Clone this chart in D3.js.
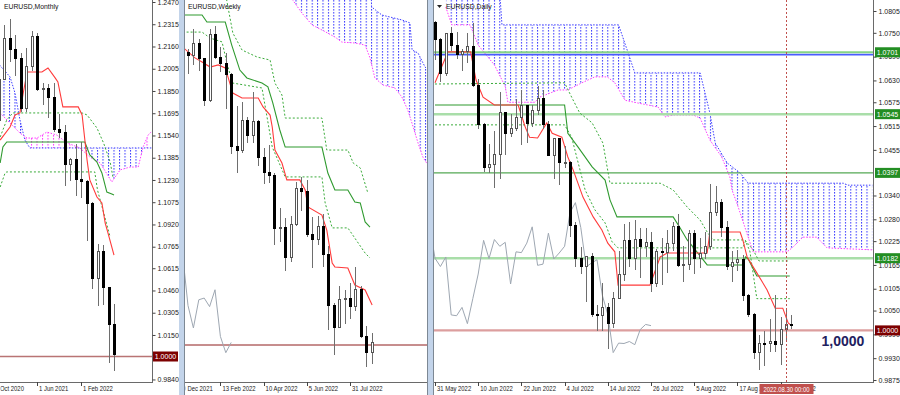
<!DOCTYPE html>
<html lang="en">
<head>
<meta charset="UTF-8">
<title>EURUSD Monthly / Weekly / Daily</title>
<script src="https://d3js.org/d3.v7.min.js"></script>
<style>
  body { margin: 0; background: #fff; }
  svg text { font-family: "Liberation Sans", Arial, sans-serif; }
</style>
</head>
<body>
<script>
// ---------- Monthly, Sep 2020 .. Aug 2022 : [open, high, low, close] ----------
const monthlyOHLC = [
  [1.1935,1.2011,1.1612,1.1720],[1.1720,1.1881,1.1622,1.1647],[1.1647,1.2004,1.1603,1.1927],
  [1.1927,1.2310,1.1925,1.2216],[1.2216,1.2350,1.2055,1.2136],[1.2136,1.2243,1.1952,1.2074],
  [1.2074,1.2113,1.1704,1.1730],[1.1730,1.2150,1.1704,1.2020],[1.2020,1.2266,1.1986,1.2228],
  [1.2228,1.2254,1.1847,1.1858],[1.1858,1.1909,1.1752,1.1870],[1.1870,1.1900,1.1664,1.1807],
  [1.1807,1.1909,1.1562,1.1580],[1.1580,1.1692,1.1524,1.1558],[1.1558,1.1616,1.1186,1.1337],
  [1.1337,1.1386,1.1222,1.1370],[1.1370,1.1483,1.1121,1.1235],[1.1235,1.1495,1.1106,1.1218],
  [1.1218,1.1233,1.0806,1.1067],[1.1067,1.1076,1.0471,1.0545],[1.0545,1.0787,1.0349,1.0733],
  [1.0733,1.0774,1.0359,1.0484],[1.0484,1.0486,0.9952,1.0220],[1.0220,1.0369,0.9901,1.0012]
];
const monthlyTenkan = [[2.3,1.1508],[4.1,1.1599],[5,1.1683],[5.9,1.1697],[6.5,1.1836],[7.2,1.1982],[9.9,1.1982],
  [11,1.2010],[12.3,1.1941],[12.8,1.1913],[13.7,1.1739],[16.5,1.1739],[17.2,1.1683],[18.1,1.1369],[18.6,1.1230],
  [19.9,1.1111],[20.8,1.1070],[21.4,1.0930],[21.9,1.0861],[23,1.0707]];
const monthlyKijun = [[2.3,1.1348],[2.8,1.1460],[3.5,1.1495],[17.7,1.1495],[18.6,1.1404],[19.9,1.1355],
  [20.8,1.1279],[21.7,1.1146],[22.6,1.1132],[23,1.1125]];
const monthlyDashedA = [[2.3,1.1529],[3.5,1.1648],[4.6,1.1697],[17.2,1.1697],[18.1,1.1683],[19.9,1.1592],
  [21.1,1.1488],[22.3,1.1355],[22.8,1.1251]];
const monthlyDashedB = [[2.3,1.1181],[3.2,1.1279],[3.5,1.1286],[19.5,1.1286],[20,1.1160],[22.3,1.0833]];
const monthlySpanA = [[2.2,1.2030],[4.1,1.1948],[5,1.1836],[5.9,1.1648],[6.8,1.1508],[7.7,1.1453],[29.9,1.1453]];
const monthlySpanB = [[2.2,1.1700],[5.9,1.1557],[7.2,1.1522],[9,1.1522],[10.8,1.1564],[12.6,1.1543],[14.5,1.1488],
  [16.8,1.1453],[18.6,1.1390],[20.5,1.1348],[22.6,1.1216],[24.1,1.1300],[25.9,1.1320],[27.4,1.1320],
  [28.3,1.1460],[29.2,1.1543],[29.9,1.1570]];
const monthlyTicks = [1.2470,1.2315,1.2160,1.2005,1.1850,1.1695,1.1540,1.1385,1.1230,1.1075,1.0920,1.0765,
  1.0615,1.0460,1.0305,1.0150,0.9840];
const monthlyDates = [[1,"1 Oct 2020"],[9,"1 Jun 2021"],[17,"1 Feb 2022"]];
const monthlyLevels = [1.0000];

// ---------- Weekly, 2 Jan 2022 .. 28 Aug 2022 ----------
const weeklyOHLC = [
  [1.1370,1.1386,1.1272,1.1359],[1.1359,1.1482,1.1313,1.1412],[1.1412,1.1436,1.1285,1.1344],
  [1.1344,1.1347,1.1121,1.1146],[1.1146,1.1483,1.1139,1.1454],[1.1454,1.1495,1.1339,1.1349],
  [1.1349,1.1395,1.1280,1.1322],[1.1322,1.1367,1.1106,1.1269],[1.1269,1.1274,1.0895,1.0929],
  [1.0929,1.1121,1.0806,1.0911],[1.0911,1.1137,1.0900,1.1051],[1.1051,1.1070,1.0945,1.0983],
  [1.0983,1.1185,1.0945,1.1047],[1.1047,1.1054,1.0837,1.0877],[1.0877,1.0924,1.0757,1.0808],
  [1.0808,1.0936,1.0760,1.0796],[1.0796,1.0806,1.0471,1.0545],[1.0545,1.0642,1.0483,1.0550],
  [1.0550,1.0594,1.0349,1.0412],[1.0412,1.0607,1.0388,1.0564],[1.0564,1.0765,1.0558,1.0733],
  [1.0733,1.0787,1.0627,1.0720],[1.0720,1.0773,1.0505,1.0518],[1.0518,1.0601,1.0359,1.0495],
  [1.0495,1.0606,1.0468,1.0554],[1.0554,1.0615,1.0366,1.0425],[1.0425,1.0464,1.0072,1.0185],
  [1.0185,1.0198,0.9952,1.0080],[1.0080,1.0278,1.0079,1.0212],[1.0212,1.0258,1.0097,1.0220],
  [1.0220,1.0293,1.0123,1.0180],[1.0180,1.0368,1.0160,1.0259],[1.0259,1.0275,1.0033,1.0040],
  [1.0040,1.0090,0.9899,0.9964],[0.9964,1.0056,0.9910,1.0012]
];
const weeklyTenkan = [[-1,1.1397],[1.3,1.1346],[2.6,1.1327],[4.1,1.1303],[5.6,1.1313],[6.9,1.1299],[8.3,1.1181],
  [10,1.1158],[13,1.1158],[13.9,1.1116],[15.2,1.1078],[15.6,1.1022],[16.1,1.0914],[17.4,1.0853],[18.3,1.0774],
  [20.7,1.0774],[21.7,1.0727],[22.2,1.0647],[24.8,1.0609],[25.7,1.0539],[26.7,1.0384],[27.2,1.0366],
  [29.6,1.0361],[30.9,1.0281],[32.8,1.0258],[34.1,1.0188]];
const weeklyKijun = [[-1,1.1547],[2.6,1.1547],[3.5,1.1514],[6.9,1.1514],[8.1,1.1406],[9.6,1.1289],[10.9,1.1252],
  [13.7,1.1228],[14.8,1.1210],[15.7,1.1135],[17,1.1008],[18,1.0928],[24.8,1.0928],[25.9,1.0806],[27.2,1.0727],
  [29.6,1.0727],[30.9,1.0670],[31.9,1.0666],[32.8,1.0577],[33.7,1.0553]];
const weeklyDashedA = [[7,1.1640],[7.4,1.1585],[8.3,1.1463],[10,1.1383],[12.8,1.1350],[15.2,1.1336],[16.1,1.1228],
  [17.4,1.1172],[18,1.1064],[24.8,1.1064],[25.7,1.0914],[29.6,1.0914],[30.6,1.0853],[31.9,1.0830],[33.3,1.0713]];
const weeklyDashedB = [[-1,1.1467],[2.6,1.1467],[4.1,1.1439],[6.3,1.1421],[7.4,1.1303],[8.3,1.1228],[13.7,1.1205],
  [15.6,1.0928],[18,1.0788],[24.8,1.0788],[25.4,1.0666],[26.7,1.0549],[29.6,1.0549],[32.8,1.0431],[33.7,1.0408]];
const weeklySpanA = [[18,1.1900],[33.6,1.1900],[34,1.1585],[35.9,1.1547],[39.6,1.1524],[41.1,1.1510],[41.5,1.1383],
  [42.6,1.1369],[43.9,1.1303],[45,1.1280]];
const weeklySpanB = [[18,1.1900],[19.4,1.1617],[21.1,1.1556],[23,1.1500],[24.8,1.1477],[27.2,1.1444],[28.5,1.1420],
  [30.9,1.1416],[32.8,1.1406],[33.7,1.1346],[34.6,1.1252],[36.1,1.1219],[38.3,1.1205],[39.6,1.1163],
  [40.7,1.1102],[41.7,1.1022],[42.6,1.0947],[43.5,1.0881],[45,1.0820]];
const weeklyDates = [[-2,"19 Dec 2021"],[6,"13 Feb 2022"],[14,"10 Apr 2022"],[22,"5 Jun 2022"],[30,"31 Jul 2022"]];
const weeklyLevels = [1.0000];

// ---------- Daily, 31 May 2022 .. 31 Aug 2022 ----------
const dailyOHLC = [
  [1.0777,1.0780,1.0682,1.0733],[1.0733,1.0737,1.0627,1.0648],[1.0648,1.0750,1.0640,1.0748],[1.0748,1.0764,1.0705,1.0719],
  [1.0719,1.0751,1.0683,1.0696],[1.0696,1.0710,1.0653,1.0704],[1.0704,1.0749,1.0675,1.0716],[1.0716,1.0774,1.0614,1.0617],
  [1.0617,1.0634,1.0507,1.0518],[1.0518,1.0522,1.0398,1.0410],[1.0410,1.0470,1.0397,1.0418],[1.0418,1.0502,1.0358,1.0443],
  [1.0443,1.0601,1.0381,1.0550],[1.0550,1.0551,1.0443,1.0497],[1.0497,1.0546,1.0487,1.0510],[1.0510,1.0583,1.0503,1.0537],
  [1.0537,1.0606,1.0468,1.0566],[1.0566,1.0567,1.0473,1.0521],[1.0521,1.0569,1.0512,1.0554],[1.0554,1.0615,1.0542,1.0584],
  [1.0584,1.0606,1.0508,1.0518],[1.0518,1.0528,1.0441,1.0442],[1.0442,1.0486,1.0382,1.0484],[1.0484,1.0485,1.0366,1.0424],
  [1.0424,1.0464,1.0410,1.0424],[1.0424,1.0427,1.0236,1.0264],[1.0264,1.0274,1.0161,1.0182],[1.0182,1.0209,1.0143,1.0161],
  [1.0161,1.0188,1.0072,1.0185],[1.0185,1.0196,1.0035,1.0039],[1.0039,1.0063,0.9999,1.0037],[1.0037,1.0120,0.9998,1.0058],
  [1.0058,1.0070,0.9952,1.0017],[1.0017,1.0098,1.0007,1.0080],[1.0080,1.0200,1.0080,1.0142],[1.0142,1.0269,1.0124,1.0227],
  [1.0227,1.0273,1.0160,1.0181],[1.0181,1.0278,1.0153,1.0229],[1.0229,1.0258,1.0131,1.0212],[1.0212,1.0258,1.0184,1.0222],
  [1.0222,1.0248,1.0097,1.0117],[1.0117,1.0206,1.0109,1.0198],[1.0198,1.0233,1.0114,1.0196],[1.0196,1.0254,1.0145,1.0220],
  [1.0220,1.0274,1.0199,1.0261],[1.0261,1.0293,1.0159,1.0164],[1.0164,1.0212,1.0123,1.0167],[1.0167,1.0254,1.0151,1.0245],
  [1.0245,1.0253,1.0141,1.0180],[1.0180,1.0233,1.0158,1.0195],[1.0195,1.0248,1.0181,1.0212],[1.0212,1.0368,1.0202,1.0297],
  [1.0297,1.0365,1.0289,1.0322],[1.0322,1.0330,1.0236,1.0259],[1.0259,1.0275,1.0153,1.0160],[1.0160,1.0200,1.0123,1.0170],
  [1.0170,1.0202,1.0150,1.0178],[1.0178,1.0191,1.0075,1.0088],[1.0088,1.0093,1.0033,1.0040],[1.0040,1.0045,0.9927,0.9944],
  [0.9944,0.9988,0.9900,0.9968],[0.9968,0.9998,0.9910,0.9967],[0.9967,1.0029,0.9946,0.9972],[0.9972,1.0090,0.9946,0.9964],
  [0.9964,1.0035,0.9914,1.0002],[1.0002,1.0054,0.9977,1.0015],[1.0015,1.0039,1.0003,1.0012]
];
const dailyTenkan = [[0,1.0624],[2.4,1.0702],[6.6,1.0702],[7.6,1.0631],[8.9,1.0588],[11,1.0568],[15.4,1.0568],
  [16.7,1.0513],[17.5,1.0487],[19,1.0485],[20.7,1.0523],[21.7,1.0497],[23.5,1.0487],[24.6,1.0437],[25.6,1.0404],
  [27.4,1.0336],[29.3,1.0286],[30.9,1.0253],[32,1.0220],[33.3,1.0198],[33.9,1.0114],[39.8,1.0114],[41.7,1.0185],
  [43,1.0195],[50.4,1.0195],[50.9,1.0248],[56.5,1.0248],[57,1.0228],[57.8,1.0185],[59.6,1.0145],[61.5,1.0102],
  [63,1.0056],[64.4,1.0056],[65.4,1.0019],[66,1.0012]];
const dailyKijun = [[0,1.0568],[24,1.0568],[24.6,1.0497],[26.5,1.0462],[29.1,1.0412],[31.5,1.0379],[32.4,1.0329],
  [33.7,1.0286],[44.1,1.0286],[45.4,1.0258],[46.7,1.0228],[47.8,1.0210],[50.4,1.0165],[57,1.0165],[57.5,1.0185],
  [58,1.0180],[59.6,1.0137],[65.7,1.0137]];
const dailyDashedA = [[0,1.0621],[24,1.0624],[25.3,1.0588],[26.8,1.0548],[29.1,1.0523],[31.1,1.0472],[32.4,1.0371],
  [41.7,1.0371],[44.1,1.0354],[46.7,1.0311],[49.1,1.0278],[50.4,1.0248],[51.5,1.0228],[57.4,1.0228],[58.9,1.0203],
  [60,1.0175],[65.7,1.0175]];
const dailyDashedB = [[0,1.0518],[24,1.0518],[25.3,1.0487],[27.8,1.0354],[29.6,1.0304],[31.5,1.0271],[32.8,1.0223],
  [33.9,1.0208],[57,1.0208],[57.5,1.0225],[58.3,1.0200],[59.6,1.0080],[65.7,1.0080]];
const dailySpanA = [[2,1.0850],[12,1.0850],[12.4,1.0770],[34,1.0770],[35.7,1.0702],[37,1.0649],[49.1,1.0649],
  [50.9,1.0548],[51.9,1.0472],[54.1,1.0422],[56.5,1.0397],[58,1.0371],[75.6,1.0371],[76.5,1.0366],[81,1.0366]];
const dailySpanB = [[2,1.0815],[3.1,1.0770],[6.5,1.0770],[8,1.0719],[11,1.0669],[13,1.0615],[13.5,1.0575],
  [18.5,1.0575],[19.4,1.0588],[22.8,1.0606],[24.6,1.0606],[27.2,1.0624],[29.6,1.0639],[31.9,1.0639],[33.3,1.0624],
  [35.2,1.0580],[37.6,1.0573],[41.3,1.0563],[42.6,1.0538],[44.1,1.0543],[47.8,1.0543],[49.1,1.0535],[50.9,1.0480],
  [53.1,1.0437],[54.6,1.0387],[55,1.0354],[55.9,1.0321],[58.9,1.0198],[65.2,1.0198],[66.3,1.0210],[68.1,1.0235],
  [70.7,1.0235],[72.6,1.0208],[81,1.0203]];
const dailyTicks = [1.0805,1.0750,1.0690,1.0630,1.0575,1.0515,1.0455,1.0340,1.0280,1.0225,1.0165,1.0105,
  1.0050,0.9990,0.9930,0.9875];
const dailyDates = [[0,"31 May 2022"],[8,"10 Jun 2022"],[16,"22 Jun 2022"],[24,"4 Jul 2022"],[32,"14 Jul 2022"],
  [40,"26 Jul 2022"],[48,"5 Aug 2022"],[56,"17 Aug 2022"],[64,"29 Aug 2022"]];
const dailyLevels = [1.0701, 1.0545, 1.0397, 1.0182, 1.0000];
const dailyBlueLevel = 1.0695;
const cursorBar = 65;
const cursorLabel = "2022.08.30 00:00";
const levelNote = "1,0000";
const chikouShift = 26;

// ---------- layout ----------
const W = 900, H = 395, BOTTOM = 382, NARROW = 0.78;
const svg = d3.select("body").append("svg").attr("width", W).attr("height", H).style("display", "block");
const defs = svg.append("defs");
const px = pts => "M" + pts.map(p => p[0].toFixed(2) + "," + p[1].toFixed(2)).join("L") + "Z";

const panels = [
  { id: "m", title: "EURUSD,Monthly", left: 0, right: 152, x0: -12.5, step: 5.5, yDomain: [1, 1.247], yRange: [356.5, 2],
    ohlc: monthlyOHLC, tenkan: monthlyTenkan, kijun: monthlyKijun, dashed: [monthlyDashedA, monthlyDashedB],
    spanA: monthlySpanA, spanB: monthlySpanB, chikou: false, ticks: monthlyTicks, dates: monthlyDates, levels: monthlyLevels },
  { id: "w", title: "EURUSD,Weekly", left: 185, right: 427, x0: 188, step: 5.4, yDomain: [1, 1.1], yRange: [345, 131.7],
    ohlc: weeklyOHLC, tenkan: weeklyTenkan, kijun: weeklyKijun, dashed: [weeklyDashedA, weeklyDashedB],
    spanA: weeklySpanA, spanB: weeklySpanB, chikou: true, ticks: null, dates: weeklyDates, levels: weeklyLevels },
  { id: "d", title: "EURUSD,Daily", left: 434, right: 873, x0: 435, step: 5.4, yDomain: [1, 1.0805], yRange: [330.4, 11],
    ohlc: dailyOHLC, tenkan: dailyTenkan, kijun: dailyKijun, dashed: [dailyDashedA, dailyDashedB],
    spanA: dailySpanA, spanB: dailySpanB, chikou: true, ticks: dailyTicks, dates: dailyDates, levels: dailyLevels }
];

panels.forEach(p => {
  const x = d3.scaleLinear().domain([0, 1]).range([p.x0, p.x0 + p.step]);
  const y = d3.scaleLinear().domain(p.yDomain).range(p.yRange);
  p.x = x; p.y = y;
  const toPx = pts => pts.map(d => [x(d[0]), y(d[1])]);
  const line = d3.line().x(d => x(d[0])).y(d => y(d[1]));

  defs.append("clipPath").attr("id", "clip-" + p.id).append("rect")
    .attr("x", p.left).attr("y", 0).attr("width", p.right - p.left).attr("height", BOTTOM);
  defs.append("clipPath").attr("id", "clipx-" + p.id).append("rect")
    .attr("x", p.left + 0.5).attr("y", 0).attr("width", W).attr("height", H);

  // cloud hatch patterns, one vertical dotted line per bar
  const off = ((x(0) % p.step) + p.step) % p.step;
  [["blue", "#3b3bff"], ["mag", "#ff3cff"]].forEach(([n, c]) => {
    const pat = defs.append("pattern").attr("id", `h-${n}-${p.id}`).attr("patternUnits", "userSpaceOnUse")
      .attr("x", off - 0.5).attr("y", 0).attr("width", p.step).attr("height", 3);
    pat.append("rect").attr("width", 1).attr("height", 1.6).attr("fill", c);
  });
  const a = toPx(p.spanA), b = toPx(p.spanB);
  defs.append("clipPath").attr("id", `belowA-${p.id}`).append("path")
    .attr("d", px(a.concat([[a[a.length - 1][0], 2000], [a[0][0], 2000]])));
  defs.append("clipPath").attr("id", `belowB-${p.id}`).append("path")
    .attr("d", px(b.concat([[b[b.length - 1][0], 2000], [b[0][0], 2000]])));

  const g = svg.append("g").attr("clip-path", `url(#clip-${p.id})`);
  const between = px(a.concat(b.slice().reverse()));
  g.append("g").attr("clip-path", `url(#belowA-${p.id})`).append("path")
    .attr("d", between).attr("fill", `url(#h-blue-${p.id})`).attr("fill-rule", "evenodd");
  g.append("g").attr("clip-path", `url(#belowB-${p.id})`).append("path")
    .attr("d", between).attr("fill", `url(#h-mag-${p.id})`).attr("fill-rule", "evenodd");
  g.append("path").attr("d", line(p.spanA)).attr("fill", "none").attr("stroke", "#3b3bff")
    .attr("stroke-width", 1).attr("stroke-dasharray", "1.5,1.5");
  g.append("path").attr("d", line(p.spanB)).attr("fill", "none").attr("stroke", "#ff3cff")
    .attr("stroke-width", 1).attr("stroke-dasharray", "1.5,1.5");

  // horizontal levels
  if (p.id === "d") {
    const styles = [["#86d486", 2], ["#a9dea9", 2.5], ["#55a855", 1.4], ["#a9dea9", 2.5], ["#dc9e9e", 2.2]];
    g.append("line").attr("x1", p.left).attr("x2", p.right).attr("y1", y(dailyBlueLevel)).attr("y2", y(dailyBlueLevel))
      .attr("stroke", "#4a5cff").attr("stroke-width", 1.8);
    p.levels.forEach((v, i) => g.append("line").attr("x1", p.left).attr("x2", p.right)
      .attr("y1", y(v)).attr("y2", y(v)).attr("stroke", styles[i][0]).attr("stroke-width", styles[i][1]));
  } else {
    p.levels.forEach(v => g.append("line").attr("x1", p.left).attr("x2", p.right)
      .attr("y1", y(v)).attr("y2", y(v))
      .attr("stroke", p.id === "m" ? "#b97474" : "#8e1c1c").attr("stroke-width", p.id === "m" ? 1.6 : 1));
  }

  // chikou span: closes shifted back
  if (p.chikou) {
    g.append("path").attr("d", line(p.ohlc.map((d, i) => [i - chikouShift, d[3]])))
      .attr("fill", "none").attr("stroke", "#9ea7b2").attr("stroke-width", 1);
  }
  p.dashed.forEach(d => g.append("path").attr("d", line(d)).attr("fill", "none")
    .attr("stroke", "#3aab3a").attr("stroke-width", 1).attr("stroke-dasharray", "2,2"));
  g.append("path").attr("d", line(p.kijun)).attr("fill", "none").attr("stroke", "#2f9a2f").attr("stroke-width", 1.1);
  g.append("path").attr("d", line(p.tenkan)).attr("fill", "none").attr("stroke", "#ff3b3b").attr("stroke-width", 1.1);

  // candles
  const c = g.append("g").attr("shape-rendering", "crispEdges").selectAll("g").data(p.ohlc).join("g");
  c.append("line").attr("x1", (d, i) => Math.round(x(i)) + 0.5).attr("x2", (d, i) => Math.round(x(i)) + 0.5)
    .attr("y1", d => y(d[1])).attr("y2", d => y(d[2])).attr("stroke", "#6e6e6e");
  c.append("rect").attr("x", (d, i) => Math.round(x(i)) - 0.5).attr("width", 2)
    .attr("y", d => y(Math.max(d[0], d[3]))).attr("height", d => Math.max(1, Math.abs(y(d[0]) - y(d[3]))))
    .attr("fill", d => d[3] >= d[0] ? "#fff" : "#000").attr("stroke", d => d[3] >= d[0] ? "#555" : "#000");

  // frame and time axis
  svg.append("line").attr("x1", p.left).attr("x2", p.right).attr("y1", BOTTOM + 0.5).attr("y2", BOTTOM + 0.5)
    .attr("stroke", "#6a6a6a");
  svg.append("line").attr("x1", p.right + 0.5).attr("x2", p.right + 0.5).attr("y1", 0).attr("y2", BOTTOM + 1)
    .attr("stroke", "#6a6a6a");
  const dg = svg.append("g").attr("clip-path", `url(#clipx-${p.id})`)
    .selectAll("g").data(p.dates.filter(d => x(d[0]) >= p.left - 12)).join("g");
  dg.append("line").attr("x1", d => Math.round(x(d[0])) + 0.5).attr("x2", d => Math.round(x(d[0])) + 0.5)
    .attr("y1", BOTTOM).attr("y2", BOTTOM + 4).attr("stroke", "#444");
  dg.append("text").attr("transform", d => `translate(${x(d[0]) + 2},391) scale(${NARROW},1)`)
    .attr("font-size", 7.6).attr("fill", "#222").text(d => d[1]);

  // price axis
  if (p.ticks) {
    const ax = d3.axisRight(y).tickValues(p.ticks).tickFormat(d3.format(".4f")).tickSize(3).tickPadding(2);
    const ag = svg.append("g").attr("transform", `translate(${p.right + 0.5},0)`).call(ax);
    ag.select(".domain").remove();
    ag.selectAll("line").attr("stroke", "#444");
    ag.selectAll("text").attr("font-size", 7).attr("fill", "#222").attr("font-family", "Liberation Sans, Arial");
  }
  p.g = g;
});

// window frames between the three charts
svg.append("rect").attr("x", 179).attr("y", 0).attr("width", 5).attr("height", H).attr("fill", "#c3d4ea");
svg.append("rect").attr("x", 428).attr("y", 0).attr("width", 5).attr("height", H).attr("fill", "#c3d4ea");
[184.5, 433.5, 427.5].forEach(v => svg.append("line").attr("x1", v).attr("x2", v).attr("y1", 0).attr("y2", H)
  .attr("stroke", "#7d8894"));

// titles
[[4, 9, panels[0].title], [188, 9, panels[1].title], [446, 9, panels[2].title]].forEach(t =>
  svg.append("text").attr("x", t[0]).attr("y", t[1]).attr("font-size", 6.8).attr("fill", "#111").text(t[2]));
svg.append("path").attr("d", "M437,5L442,5L439.5,8Z").attr("fill", "#222");

// price boxes
const pm = panels[0], pd = panels[2];
function priceBox(xl, yv, txt, fill) {
  svg.append("rect").attr("x", xl).attr("y", yv - 5).attr("width", 25).attr("height", 10).attr("fill", fill);
  svg.append("text").attr("x", xl + 12.5).attr("y", yv + 2.6).attr("text-anchor", "middle").attr("font-size", 7)
    .attr("fill", "#fff").text(txt);
}
priceBox(153, pm.y(monthlyLevels[0]), d3.format(".4f")(monthlyLevels[0]), "#7d0000");
dailyLevels.forEach((v, i) => priceBox(875, pd.y(v), d3.format(".4f")(v), i === 4 ? "#7d0000" : "#238e23"));

// daily cursor line and its date box
const cx = Math.round(pd.x(cursorBar)) + 0.5;
pd.g.append("line").attr("x1", cx).attr("x2", cx).attr("y1", 0).attr("y2", BOTTOM)
  .attr("stroke", "#c0504d").attr("stroke-dasharray", "2,2");
svg.append("rect").attr("x", cx - 27).attr("y", 384).attr("width", 54).attr("height", 10).attr("fill", "#c0504d");
svg.append("text").attr("transform", `translate(${cx},391.5) scale(${NARROW},1)`).attr("text-anchor", "middle")
  .attr("font-size", 7.6).attr("fill", "#fff").text(cursorLabel);

// big level note
svg.append("text").attr("x", 843).attr("y", 346).attr("text-anchor", "middle")
  .attr("font-family", "Liberation Serif, Times New Roman, serif").attr("font-weight", "bold")
  .attr("font-size", 14).attr("fill", "#1f2160").text(levelNote);
</script>
</body>
</html>
